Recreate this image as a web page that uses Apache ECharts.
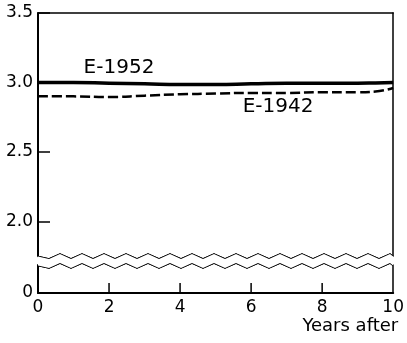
<!DOCTYPE html>
<html>
<head>
<meta charset="utf-8">
<script src="https://cdn.jsdelivr.net/npm/echarts@6/dist/echarts.min.js"></script>
<style>
    html, body { margin: 0; padding: 0; background: #fff; }
    #chart { width: 407px; height: 343px; }
</style>
</head>
<body>
<div id="chart"></div>
<script>
// years after
const years = [0, 1, 2, 3, 4, 5, 6, 7, 8, 9, 9.5, 10]
const e1952 = [3.0, 3.0, 2.995, 2.99, 2.985, 2.985, 2.99, 2.995, 2.995, 2.995, 2.997, 3.0]
const e1942 = [2.9, 2.9, 2.895, 2.905, 2.915, 2.92, 2.925, 2.925, 2.93, 2.93, 2.935, 2.96]
const xTicks = [2, 4, 6, 8]
const yLabels = [0, 2.0, 2.5, 3.0, 3.5]
const yTicks = [2.0, 2.5, 3.0, 3.5]

const font = 'DejaVu Sans'
const pair = (xs, ys) => xs.map((x, i) => [x, ys[i]])

const yBreak = {
    breaks: [{ start: 0.2, end: 1.75, gap: 0.065 }],
    breakArea: {
        show: true,
        expandOnClick: false,
        zigzagAmplitude: 2.5,
        zigzagMinSpan: 11,
        zigzagMaxSpan: 11,
        zigzagZ: 100,
        itemStyle: {
            color: '#fff',
            borderColor: '#000',
            borderWidth: 1.5,
            borderType: 'solid',
            opacity: 1
        }
    }
}

const lineLabel = (text, coord) => ({
    symbol: 'rect',
    symbolSize: 1,
    itemStyle: { color: 'transparent' },
    label: {
        show: true, position: 'inside', formatter: text,
        fontFamily: font, fontSize: 20, color: '#000'
    },
    data: [{ coord: coord }]
})

const chart = echarts.init(document.getElementById('chart'))
chart.setOption({
    animation: false,
    grid: { left: 38, right: 9, top: 13, bottom: 50 },
    xAxis: [
        {
            type: 'value',
            position: 'bottom',
            min: 0,
            max: 10,
            interval: 2,
            name: 'Years after',
            nameLocation: 'end',
            nameGap: 5,
            nameTextStyle: {
                fontFamily: font, fontSize: 18, color: '#000',
                align: 'right', verticalAlign: 'top', padding: [24, 0, 0, 0]
            },
            splitLine: { show: false },
            axisLine: { show: true, onZero: false, lineStyle: { color: '#000', width: 2 } },
            axisTick: { show: false },
            axisLabel: {
                fontFamily: font, fontSize: 17, color: '#000', margin: 6
            }
        },
        {
            type: 'value',
            position: 'top',
            min: 0,
            max: 10,
            axisLine: { show: true, onZero: false, lineStyle: { color: '#000', width: 1.5 } },
            axisTick: { show: false },
            axisLabel: { show: false },
            splitLine: { show: false }
        }
    ],
    yAxis: [
        Object.assign({
            type: 'value',
            min: 0,
            max: 3.5,
            splitLine: { show: false },
            axisLine: { show: true, lineStyle: { color: '#000', width: 2 } },
            axisTick: {
                show: true, inside: true, length: 12,
                customValues: yTicks,
                lineStyle: { color: '#000', width: 1.5 }
            },
            axisLabel: {
                fontFamily: font, fontSize: 17, color: '#000', margin: 5,
                customValues: yLabels,
                formatter: v => (v === 0 ? '0' : v.toFixed(1))
            }
        }, yBreak),
        Object.assign({
            type: 'value',
            position: 'right',
            min: 0,
            max: 3.5,
            splitLine: { show: false },
            axisLine: { show: true, onZero: false, lineStyle: { color: '#000', width: 1.5 } },
            axisTick: { show: false },
            axisLabel: { show: false }
        }, yBreak)
    ],
    series: [
        {
            name: 'E-1952',
            type: 'line',
            data: pair(years, e1952),
            symbol: 'none',
            smooth: true,
            lineStyle: { color: '#000', width: 3.5 },
            markPoint: lineLabel('E-1952', [2.28, 3.108])
        },
        {
            name: 'E-1942',
            type: 'line',
            data: pair(years, e1942),
            symbol: 'none',
            smooth: true,
            lineStyle: { color: '#000', width: 2.5, type: [10, 4] },
            markPoint: lineLabel('E-1942', [6.76, 2.827])
        },
        {
            // x tick marks standing up from the baseline, on their own layer
            name: 'ticks',
            type: 'scatter',
            silent: true,
            clip: false,
            zlevel: 1,
            z: 200,
            symbol: 'rect',
            symbolSize: [1.5, 10],
            itemStyle: { color: '#000', opacity: 1 },
            data: xTicks.map(x => [x, 0.036])
        }
    ]
})
</script>
</body>
</html>
